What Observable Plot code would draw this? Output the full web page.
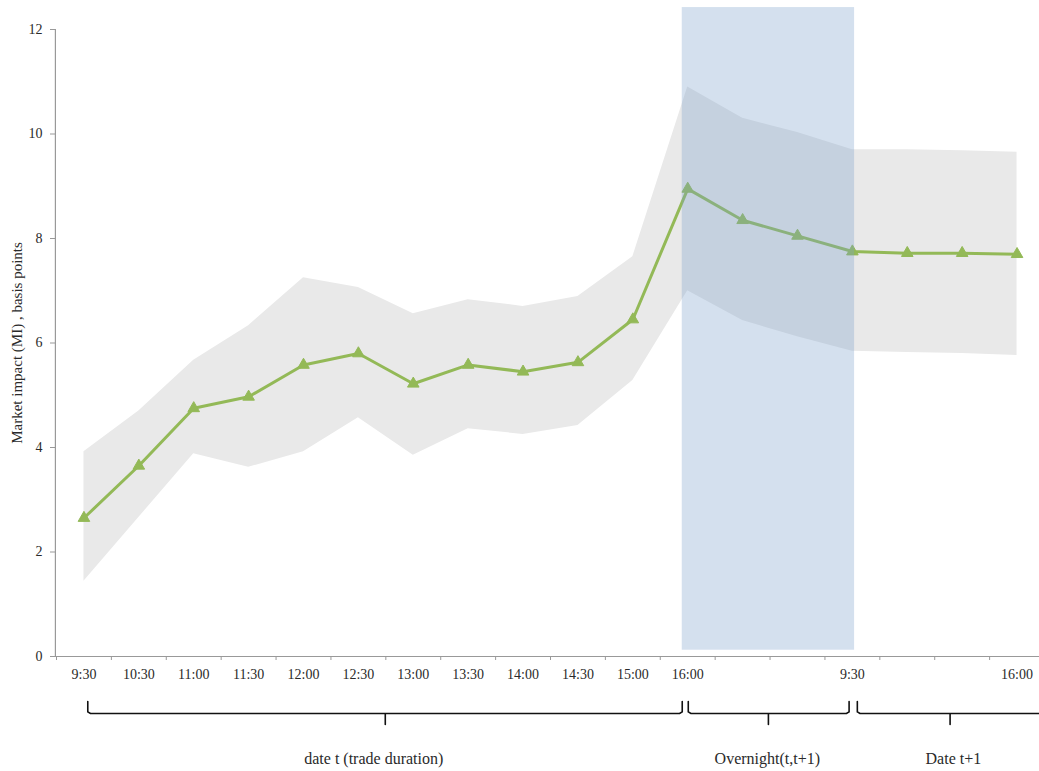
<!DOCTYPE html>
<html>
<head>
<meta charset="utf-8">
<script src="https://cdn.jsdelivr.net/npm/d3@7"></script>
<script src="https://cdn.jsdelivr.net/npm/@observablehq/plot@0.6"></script>
<style>
  html, body { margin: 0; padding: 0; background: #fff; }
  #chart svg { display: block; }
</style>
</head>
<body>
<div id="chart"></div>
<script>
// Tick labels for the 18 time slots (blank slots inside overnight / next day)
const timeLabels = ["9:30","10:30","11:00","11:30","12:00","12:30","13:00","13:30","14:00","14:30","15:00","16:00","","","9:30","","","16:00"];
// Mean market impact (basis points)
const impact = [2.65, 3.65, 4.75, 4.97, 5.58, 5.80, 5.22, 5.58, 5.45, 5.63, 6.45, 8.95, 8.35, 8.05, 7.75, 7.72, 7.72, 7.70];
// Confidence band
const upper = [3.92, 4.70, 5.67, 6.33, 7.25, 7.06, 6.56, 6.83, 6.70, 6.89, 7.65, 10.90, 10.30, 10.03, 9.70, 9.70, 9.68, 9.65];
const lower = [1.44, 2.66, 3.88, 3.62, 3.92, 4.57, 3.85, 4.36, 4.25, 4.42, 5.28, 7.00, 6.43, 6.12, 5.84, 5.82, 5.80, 5.76];
// Overnight shaded region (slot index span, value span)
const overnight = [{x1: 10.9, x2: 14.04, y1: 0.12, y2: 12.42}];
// Period brackets: start slot, middle slot, end slot, label slot, label
const periods = [
  {start: 0.07, mid: 5.49, end: 10.9, at: 5.28, label: "date t (trade duration)"},
  {start: 11.01, mid: 12.47, end: 13.94, at: 12.45, label: "Overnight(t,t+1)"},
  {start: 14.09, mid: 15.78, end: 17.6, at: 15.84, label: "Date t+1"}
];
const yTicks = [0, 2, 4, 6, 8, 10, 12];

const data = impact.map((v, i) => ({i, v, lo: lower[i], hi: upper[i], label: timeLabels[i]}));
const edges = d3.range(-0.5, timeLabels.length, 1);

// bracket polylines
const bTop = -0.86, bBot = -1.09, bTip = -1.30;
const bracketPts = periods.flatMap((p, k) => [
  {k, x: p.start, y: bTop}, {k, x: p.start, y: bBot + 0.03}, {k, x: p.start + 0.05, y: bBot},
  {k, x: p.mid, y: bBot}, {k, x: p.mid, y: bTip}, {k, x: p.mid, y: bBot},
  {k, x: p.end - 0.05, y: bBot}, {k, x: p.end, y: bBot + 0.03}, {k, x: p.end, y: bTop}
]);

const font = "'Liberation Serif', 'Times New Roman', serif";
const green = "#93b957";

const chart = Plot.plot({
  width: 1039,
  height: 771,
  marginLeft: 56,
  marginTop: 29,
  marginBottom: 115,
  marginRight: 0,
  style: {fontFamily: font, fontSize: "14px", color: "#2a2a2a", background: "#fff"},
  x: {domain: [-0.5, 17.5], range: [56, 1044]},
  y: {domain: [0, 12]},
  marks: [
    Plot.areaY(data, {x: "i", y1: "lo", y2: "hi", fill: "#e9e9e9"}),
    Plot.line(data, {x: "i", y: "v", stroke: green, strokeWidth: 3}),
    Plot.dot(data, {x: "i", y: "v", symbol: "triangle", r: 4.3, fill: green, stroke: green, strokeWidth: 1}),
    Plot.rect(overnight, {x1: "x1", x2: "x2", y1: "y1", y2: "y2", fill: "rgb(124,161,202)", fillOpacity: 0.33}),
    // axes lines
    Plot.ruleY([0], {x1: -0.52, x2: 17.6, stroke: "#999", strokeWidth: 1.2}),
    Plot.ruleX([-0.52], {y1: 0, y2: 12, stroke: "#999", strokeWidth: 1.2}),
    Plot.axisY({ticks: yTicks, tickSize: 6, tickPadding: 8, stroke: "#999", label: null, fontSize: 14}),
    Plot.axisX({ticks: edges, tickSize: 4, tickFormat: () => "", stroke: "#999", label: null}),
    Plot.axisX({ticks: d3.range(timeLabels.length), tickSize: 0, tickPadding: 13, tickFormat: i => timeLabels[i], label: null, fontSize: 14}),
    Plot.text(["Market impact (MI) , basis points"], {frameAnchor: "left", textAnchor: "middle", dx: -39, rotate: -90, fontSize: 15, fill: "#2a2a2a"}),
    // brackets
    Plot.line(bracketPts, {x: "x", y: "y", z: "k", stroke: "#111", strokeWidth: 1.6}),
    Plot.text(periods, {x: "at", text: "label", frameAnchor: "bottom", dy: 107, fontSize: 16, fill: "#2a2a2a"})
  ]
});
document.getElementById("chart").appendChild(chart);
</script>
</body>
</html>
